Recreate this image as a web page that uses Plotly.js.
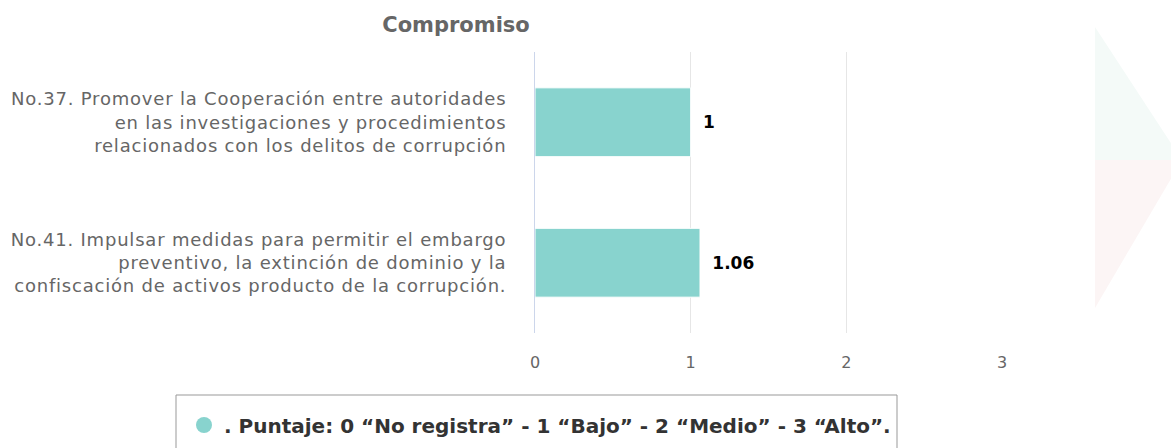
<!DOCTYPE html>
<html>
<head>
<meta charset="utf-8">
<script src="https://cdn.plot.ly/plotly-3.0.1.min.js"></script>
<style>
html,body{margin:0;padding:0;background:#fff;}
#chart{width:1171px;height:448px;}
#chart .ytick text{letter-spacing:0.8px;}
</style>
</head>
<body>
<div id="chart"></div>
<script>
const categories = [
  "No.37. Promover la Cooperación entre autoridades<br>en las investigaciones y procedimientos<br>relacionados con los delitos de corrupción",
  "No.41. Impulsar medidas para permitir el embargo<br>preventivo, la extinción de dominio y la<br>confiscación de activos producto de la corrupción."
];
const scores = [1, 1.06];
const scoreLabels = ["1", "1.06"];
const xTicks = [0, 1, 2, 3];
const legendName = ". Puntaje: 0 “No registra” - 1 “Bajo” - 2 “Medio” - 3 “Alto”.";
const chartTitle = "Compromiso";

const W = 1171, H = 448;
const L = 535, R = 1002, T = 52, B = 333;
function px(x){ return (x - L) / (R - L); }
function py(y){ return (B - y) / (B - T); }

const barColor = "#88d3ce";
const pad = "\u00a0\u2009";

const traces = [
  {
    type: "bar",
    orientation: "h",
    y: categories,
    x: scores,
    text: scoreLabels.map(s => pad + s),
    textposition: "outside",
    cliponaxis: false,
    textfont: {family: "DejaVu Sans", size: 17, color: "#000", weight: "bold"},
    marker: {color: barColor, line: {color: "#ffffff", width: 1}},
    width: 0.49,
    showlegend: false,
    hoverinfo: "none"
  },
  {
    type: "scatter",
    mode: "markers",
    x: [null], y: [null],
    name: legendName,
    marker: {color: barColor, size: 22, symbol: "circle"},
    showlegend: true
  }
];

const wm = "M " + px(1095) + " " + py(27) + " L " + px(1182) + " " + py(160) + " L " + px(1095) + " " + py(160) + " Z";
const wm2 = "M " + px(1095) + " " + py(160) + " L " + px(1182) + " " + py(160) + " L " + px(1095) + " " + py(308) + " Z";

const layout = {
  width: W, height: H,
  margin: {l: L, r: W - R, t: T, b: H - B, pad: 0, autoexpand: false},
  paper_bgcolor: "#fff",
  plot_bgcolor: "rgba(0,0,0,0)",
  font: {family: "DejaVu Sans", color: "#666"},
  title: {
    text: "<b>" + chartTitle + "</b>",
    font: {family: "DejaVu Sans", size: 21, color: "#666"},
    x: 456 / W, xref: "container", xanchor: "center",
    y: 1 - 25 / H, yref: "container", yanchor: "middle"
  },
  xaxis: {
    range: [0, 3],
    tickvals: xTicks,
    ticktext: xTicks.map(String),
    showgrid: true, gridcolor: "#e6e6e6", gridwidth: 1,
    zeroline: false, showline: false, ticks: "",
    ticklabelstandoff: 18,
    tickfont: {family: "DejaVu Sans", size: 16, color: "#666"},
    fixedrange: true
  },
  yaxis: {
    autorange: "reversed",
    showgrid: false, zeroline: false,
    showline: true, linecolor: "#ccd6eb", linewidth: 1,
    ticks: "", ticklabelstandoff: 24,
    tickfont: {family: "DejaVu Sans", size: 18, color: "#666"},
    fixedrange: true
  },
  shapes: [
    {type: "path", xref: "paper", yref: "paper", path: wm, fillcolor: "#f4faf8", line: {width: 0}, layer: "below"},
    {type: "path", xref: "paper", yref: "paper", path: wm2, fillcolor: "#fcf5f5", line: {width: 0}, layer: "below"},
    {type: "rect", xref: "paper", yref: "paper", x0: px(176), x1: px(897), y0: py(395), y1: py(475),
     fillcolor: "#ffffff", line: {color: "#999", width: 1}, layer: "below"}
  ],
  showlegend: true,
  legend: {
    orientation: "h",
    xref: "container", yref: "container",
    x: 184 / W, xanchor: "left",
    y: 1 - 425 / H, yanchor: "middle",
    bgcolor: "rgba(0,0,0,0)", borderwidth: 0,
    font: {family: "DejaVu Sans", size: 20, color: "#333", weight: "bold"}
  }
};

Plotly.newPlot("chart", traces, layout, {displayModeBar: false, staticPlot: true});
</script>
</body>
</html>
